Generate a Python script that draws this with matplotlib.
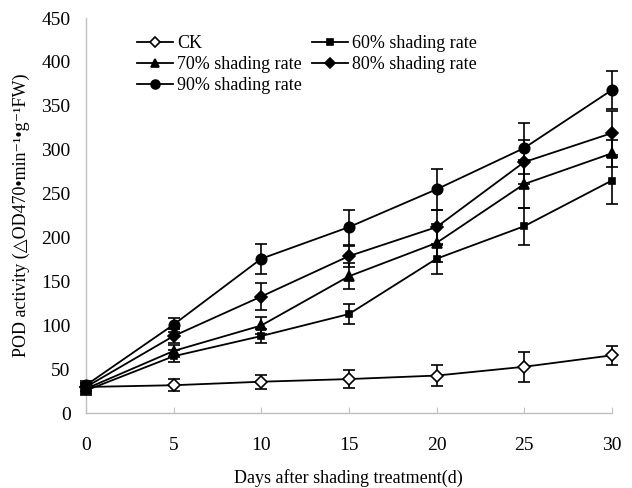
import matplotlib
matplotlib.use("Agg")
import matplotlib.pyplot as plt
from matplotlib.lines import Line2D

days = [0, 5, 10, 15, 20, 25, 30]
ck = [30, 32, 36, 39, 43, 53, 66]
ck_err = [5, 7, 8, 10, 12, 17, 11]
s60 = [26, 65, 88, 113, 176, 213, 265]
s60_err = [5, 7, 8, 11, 17, 21, 27]
s70 = [28, 71, 100, 156, 194, 261, 296]
s70_err = [5, 7, 10, 15, 22, 27, 15]
s80 = [30, 88, 133, 179, 212, 286, 319]
s80_err = [5, 8, 15, 12, 20, 25, 25]
s90 = [32, 101, 176, 212, 255, 302, 368]
s90_err = [5, 8, 17, 20, 23, 29, 22]

labels = ["CK", "60% shading rate", "70% shading rate", "80% shading rate", "90% shading rate"]
xticks = [0, 5, 10, 15, 20, 25, 30]
yticks = [0, 50, 100, 150, 200, 250, 300, 350, 400, 450]

serif = ["Liberation Serif", "DejaVu Serif"]
plt.rcParams["font.family"] = serif

fig = plt.figure(figsize=(6.32, 4.88), dpi=100)
ax = fig.add_axes([0.136, 0.153, 0.832, 0.81])

styles = [
    (ck, ck_err, "D", "white", 6),
    (s60, s60_err, "s", "black", 5),
    (s70, s70_err, "^", "black", 7),
    (s80, s80_err, "D", "black", 6),
    (s90, s90_err, "o", "black", 7.5),
]
handles = []
for (vals, errs, m, fc, ms), lab in zip(styles, labels):
    ax.errorbar(days, vals, yerr=errs, color="black", lw=1.3, marker=m,
                markerfacecolor=fc, markeredgecolor="black", markeredgewidth=1.2,
                markersize=ms, capsize=4, elinewidth=1.2, capthick=1.2,
                clip_on=False, zorder=3)
    handles.append(Line2D([], [], color="black", lw=1.3, marker=m, markerfacecolor=fc,
                          markeredgecolor="black", markeredgewidth=1.2,
                          markersize=ms * 0.85))

ax.set_xlim(0, 30)
ax.set_ylim(0, 450)
ax.set_xticks(xticks)
ax.set_yticks(yticks)
for s in ["top", "right"]:
    ax.spines[s].set_visible(False)
for s in ["left", "bottom"]:
    ax.spines[s].set_color("#c0c0c0")
    ax.spines[s].set_linewidth(1.0)
ax.tick_params(axis="x", direction="in", length=4, color="#c0c0c0", pad=17, labelsize=14)
ax.tick_params(axis="y", length=0, pad=11, labelsize=14)

ax.set_xlabel("Days after shading treatment(d)", fontsize=13, labelpad=11)
ax.set_ylabel("POD activity (\u25b3OD470\u2022min\u207b\u00b9\u2022g\u207b\u00b9FW)", fontsize=13, labelpad=8)

order = [0, 2, 4, 1, 3]
leg = ax.legend([handles[i] for i in order], [labels[i] for i in order], ncol=2,
                frameon=False, fontsize=13, loc="upper left",
                bbox_to_anchor=(0.084, 0.975), handlelength=2.0, handletextpad=0.2,
                columnspacing=0.55, labelspacing=0.22, borderaxespad=0)

fig.savefig("out.png", dpi=100)
